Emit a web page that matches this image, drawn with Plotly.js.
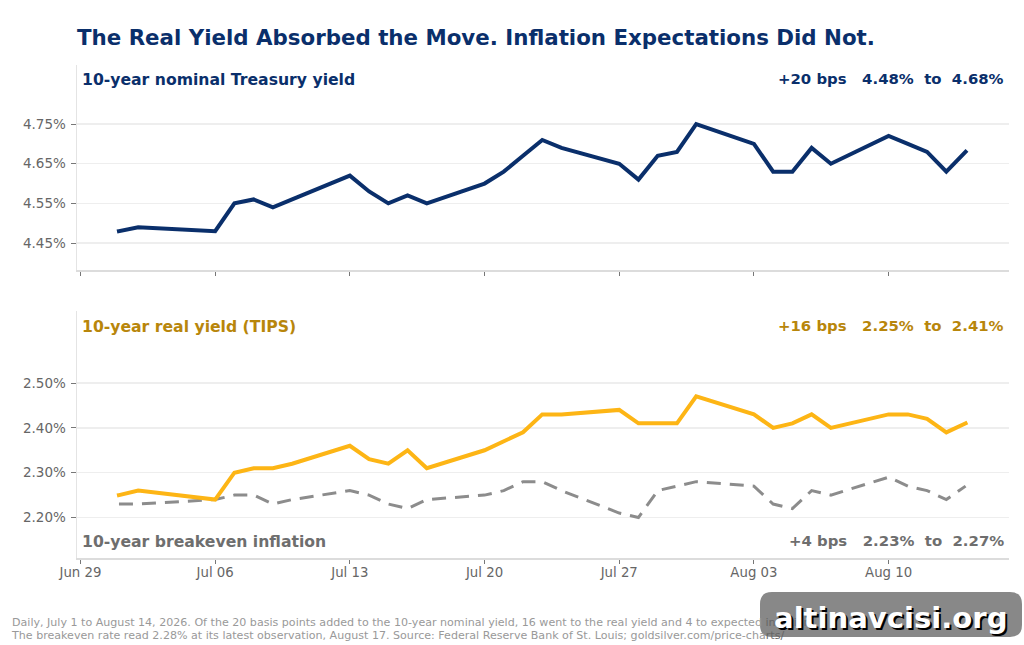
<!DOCTYPE html>
<html><head><meta charset="utf-8">
<script src="https://cdn.plot.ly/plotly-3.0.1.min.js"></script>
<style>html,body{margin:0;padding:0;background:#fff}#c{width:1024px;height:645px}
path.js-line{stroke-linejoin:miter !important}
path.js-line:not([style*="dasharray"]){stroke-linecap:square !important}
</style>
</head><body><div id="c"></div>
<script>
const dates = ["2026-07-01","2026-07-02","2026-07-06","2026-07-07","2026-07-08","2026-07-09","2026-07-10","2026-07-13","2026-07-14","2026-07-15","2026-07-16","2026-07-17","2026-07-20","2026-07-21","2026-07-22","2026-07-23","2026-07-24","2026-07-27","2026-07-28","2026-07-29","2026-07-30","2026-07-31","2026-08-03","2026-08-04","2026-08-05","2026-08-06","2026-08-07","2026-08-10","2026-08-11","2026-08-12","2026-08-13","2026-08-14"];
const nominal = [4.48,4.49,4.48,4.55,4.56,4.54,4.56,4.62,4.58,4.55,4.57,4.55,4.60,4.63,4.67,4.71,4.69,4.65,4.61,4.67,4.68,4.75,4.70,4.63,4.63,4.69,4.65,4.72,4.70,4.68,4.63,4.68];
const real = [2.25,2.26,2.24,2.30,2.31,2.31,2.32,2.36,2.33,2.32,2.35,2.31,2.35,2.37,2.39,2.43,2.43,2.44,2.41,2.41,2.41,2.47,2.43,2.40,2.41,2.43,2.40,2.43,2.43,2.42,2.39,2.41];
const breakeven = [2.23,2.23,2.24,2.25,2.25,2.23,2.24,2.26,2.25,2.23,2.22,2.24,2.25,2.26,2.28,2.28,2.26,2.21,2.20,2.26,2.27,2.28,2.27,2.23,2.22,2.26,2.25,2.29,2.27,2.26,2.24,2.27];
const xTicks = ["2026-06-29","2026-07-06","2026-07-13","2026-07-20","2026-07-27","2026-08-03","2026-08-10"];
const xLabels = ["Jun 29","Jul 06","Jul 13","Jul 20","Jul 27","Aug 03","Aug 10"];
const nominalTicks = [4.45,4.55,4.65,4.75];
const nominalLabels = ["4.45%","4.55%","4.65%","4.75%"];
const realTicks = [2.20,2.30,2.40,2.50];
const realLabels = ["2.20%","2.30%","2.40%","2.50%"];

const W = 1024, H = 645, F = "DejaVu Sans, Liberation Sans, sans-serif";
const NAVY = "#0a2f6b", GOLD = "#fdb515", DARKGOLD = "#b8860b", GREY = "#8c8c8c", DGREY = "#6e6e6e";
const px = v => v / W, py = v => 1 - v / H;

function xaxis(anchor, labels) {
  return { type:"date", anchor, range:["2026-06-28T19:40","2026-08-16T06:10"], domain:[px(77),px(1009)],
    tickvals:xTicks, ticktext:xLabels, showticklabels:labels, ticks:"outside", ticklen:4, tickwidth:1, tickcolor:"#777", ticklabelstandoff:-2,
    tickfont:{family:F,size:13.3,color:"#666"}, showgrid:false, zeroline:false, showline:true, linecolor:"#dcdcdc", linewidth:1.5, fixedrange:true };
}
function yaxis(anchor, range, domain, vals, text) {
  return { anchor, range, domain, tickvals:vals, ticktext:text, ticks:"outside", ticklen:5, tickwidth:1, tickcolor:"#777", ticklabelstandoff:2,
    tickfont:{family:F,size:13.5,color:"#666"}, showgrid:true, gridcolor:"#eeeeee", gridwidth:1.5, zeroline:false, showline:true, linecolor:"#e4e4e4", linewidth:1.5, fixedrange:true };
}
function note(text, x, y, color, anchor, size) {
  return { text, x:px(x), y:py(y), xref:"paper", yref:"paper", xanchor:anchor, yanchor:"middle", showarrow:false,
    align: anchor==="right"?"right":"left", font:{family:F,size,color,weight:700} };
}
function foot(text, x, y) {
  return { text, x:px(x), y:py(y), xref:"paper", yref:"paper", xanchor:"left", yanchor:"middle", align:"left", showarrow:false, font:{family:F,size:11.08,color:"#999"} };
}
const traces = [
  {x:dates,y:nominal,xaxis:"x",yaxis:"y",mode:"lines",line:{color:NAVY,width:4},name:"10-year nominal Treasury yield"},
  {x:dates,y:breakeven,xaxis:"x2",yaxis:"y2",mode:"lines",line:{color:GREY,width:3,dash:"14px,9px"},name:"10-year breakeven inflation"},
  {x:dates,y:real,xaxis:"x2",yaxis:"y2",mode:"lines",line:{color:GOLD,width:4},name:"10-year real yield (TIPS)"}
];
const layout = {
  width:W, height:H, showlegend:false, paper_bgcolor:"#fff", plot_bgcolor:"#fff", hovermode:false,
  margin:{l:0,r:0,t:0,b:0,pad:0},
  xaxis:xaxis("y",false),
  yaxis:yaxis("x",[4.382,4.899],[py(270),py(65)],nominalTicks,nominalLabels),
  xaxis2:xaxis("y2",true),
  yaxis2:yaxis("x2",[2.1097,2.6606],[py(558),py(311)],realTicks,realLabels),
  title:{text:"The Real Yield Absorbed the Move. Inflation Expectations Did Not.",x:px(77),xanchor:"left",y:py(38),yanchor:"middle",font:{family:F,size:21.35,color:NAVY,weight:700}},
  annotations:[
    note("10-year nominal Treasury yield",80,79,NAVY,"left",15.65),
    note("+20 bps   4.48%  to  4.68%",1006,79,NAVY,"right",14.9),
    note("10-year real yield (TIPS)",80,326,DARKGOLD,"left",15.65),
    note("+16 bps   2.25%  to  2.41%",1006,326,DARKGOLD,"right",14.9),
    note("10-year breakeven inflation",80,541,DGREY,"left",15.65),
    note("+4 bps   2.23%  to  2.27%",1006,541,DGREY,"right",14.9),
    foot('Daily, July 1 to August 14, 2026. Of the 20 basis points added to the 10-year nominal yield, 16 went to the real yield and 4 to expected <span style="color:#666">inflation.</span>',9.6,622.5),
    foot('The breakeven rate read 2.28% at its latest observation, August 17. Source: Federal Reserve Bank of St. Louis; goldsilver.com/price-cha<span style="color:#666">rts/</span>',9,635),
    {text:"altinavcisi.org",x:px(891),y:py(618),xref:"paper",yref:"paper",xanchor:"center",yanchor:"middle",showarrow:false,
     font:{family:F,size:29.1,color:"#fff",weight:700,shadow:"2px 2px 0 #000"}}
  ],
  shapes:[
    {type:"path",xref:"paper",yref:"paper",layer:"above",fillcolor:"#888888",line:{width:0},
     path:`M ${px(772)} ${py(592)} L ${px(1010)} ${py(592)} Q ${px(1022)} ${py(592)} ${px(1022)} ${py(604)} L ${px(1022)} ${py(625)} Q ${px(1022)} ${py(637)} ${px(1010)} ${py(637)} L ${px(772)} ${py(637)} Q ${px(760)} ${py(637)} ${px(760)} ${py(625)} L ${px(760)} ${py(604)} Q ${px(760)} ${py(592)} ${px(772)} ${py(592)} Z`}
  ]
};
Plotly.newPlot("c",traces,layout,{staticPlot:true,displayModeBar:false});
</script></body></html>
